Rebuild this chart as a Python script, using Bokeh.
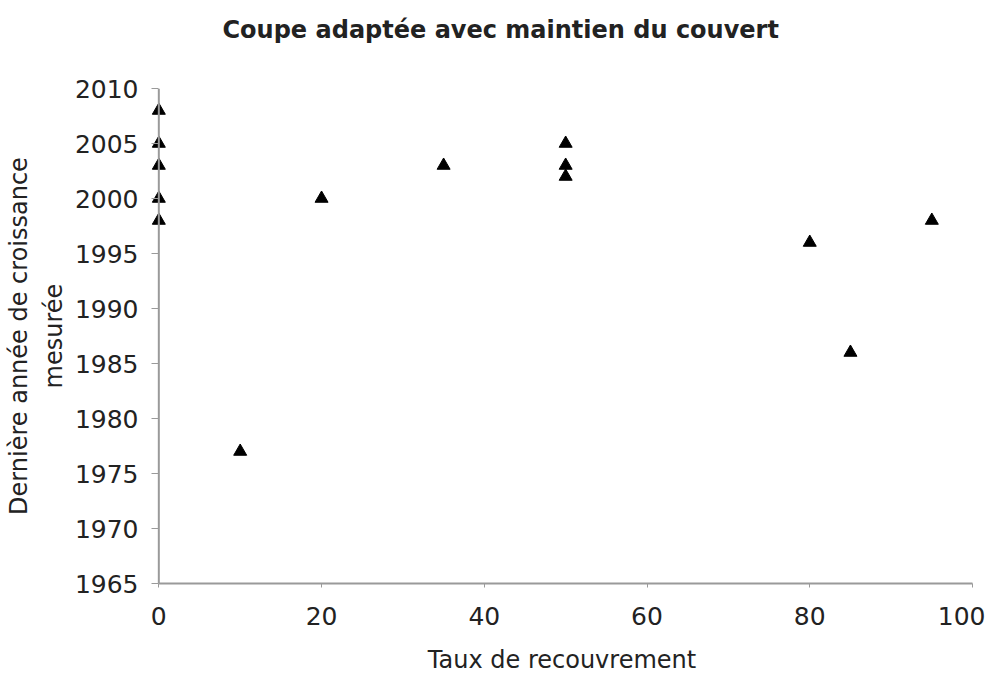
from bokeh.plotting import figure
from bokeh.models import ColumnDataSource, Range1d, FixedTicker, Title, Span
from bokeh.embed import file_html
from bokeh.resources import INLINE

title_text = "Coupe adaptée avec maintien du couvert"
x_label = "Taux de recouvrement"
y_label = "Dernière année de croissance\nmesurée"

taux = [0, 0, 0, 0, 0, 10, 20, 35, 50, 50, 50, 80, 85, 95]
annee = [2008, 2005, 2003, 2000, 1998, 1977, 2000, 2003, 2005, 2003, 2002, 1996, 1986, 1998]

x_ticks = [0, 20, 40, 60, 80, 100]
y_ticks = [1965, 1970, 1975, 1980, 1985, 1990, 1995, 2000, 2005, 2010]

FONT = "DejaVu Sans"
TXT = "#222222"
AX = "#9a9a9a"

W, H = 985, 677
LEFT, RIGHT, TOP, BOTTOM = 151, 13, 88, 94

p = figure(width=W, height=H, output_backend="svg", toolbar_location=None,
           x_range=Range1d(-0.9, 100), y_range=Range1d(1965, 2010),
           min_border_left=LEFT, min_border_right=RIGHT, min_border_top=TOP,
           min_border_bottom=BOTTOM)
p.title = None
# invisible spacer between frame and title, then the title itself (outermost)
p.add_layout(Title(text=" ", standoff=13, vertical_align="top",
                   text_font=FONT, text_font_size="24px"), "above")
p.add_layout(Title(text=title_text, align="left", offset=71, standoff=0, vertical_align="top",
                   text_font=FONT, text_font_size="24px", text_font_style="bold",
                   text_color=TXT), "above")
p.outline_line_color = None
p.xgrid.grid_line_color = None
p.ygrid.grid_line_color = None
p.background_fill_color = "white"
p.border_fill_color = "white"

# vertical axis line at x = 0
p.add_layout(Span(location=0, dimension="height", line_color=AX, line_width=2))

src = ColumnDataSource(dict(x=taux, y=annee))
p.scatter("x", "y", source=src, marker="triangle", size=13, fill_color="black", line_color="black")

for ax in (p.xaxis[0], p.yaxis[0]):
    ax.axis_line_color = AX
    ax.axis_line_width = 2
    ax.major_tick_line_color = AX
    ax.major_tick_out = 4
    ax.major_tick_in = 0
    ax.minor_tick_out = 0
    ax.minor_tick_in = 0
    ax.major_label_text_font = FONT
    ax.major_label_text_font_size = "25px"
    ax.major_label_text_color = TXT
    ax.axis_label_text_font = FONT
    ax.axis_label_text_font_size = "24px"
    ax.axis_label_text_font_style = "normal"
    ax.axis_label_text_color = TXT

p.yaxis.axis_line_color = None
p.yaxis.major_tick_out = 0
p.yaxis.major_tick_in = 7
p.xaxis.ticker = FixedTicker(ticks=x_ticks)
p.yaxis.ticker = FixedTicker(ticks=y_ticks)
p.xaxis.bounds = (0, 100)
p.xaxis.axis_label = x_label
p.yaxis.axis_label = y_label
p.yaxis.axis_label_text_line_height = 1.25
p.xaxis.major_label_standoff = 19
p.yaxis.major_label_standoff = 13
p.xaxis.axis_label_standoff = 18
p.yaxis.axis_label_standoff = 4

open("out.html", "w").write(file_html(p, INLINE))
